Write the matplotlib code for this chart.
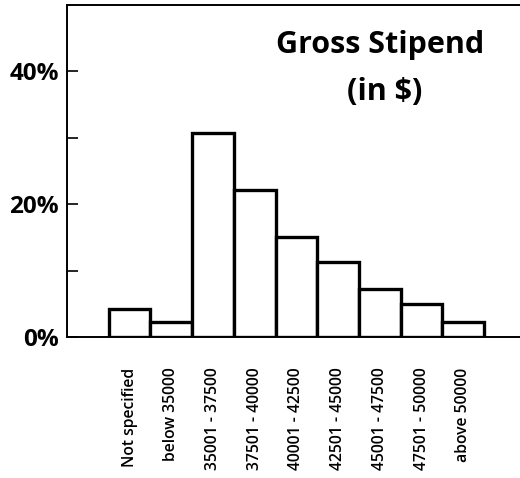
import matplotlib
matplotlib.use("Agg")
import matplotlib.pyplot as plt
import numpy as np

plt.rcParams['font.family'] = ['Open Sans', 'DejaVu Sans']

categories = ['Not specified', 'below 35000', '35001 - 37500', '37501 - 40000',
              '40001 - 42500', '42501 - 45000', '45001 - 47500', '47501 - 50000',
              'above 50000']
shares = [4.2, 2.2, 30.7, 22.1, 15.1, 11.3, 7.2, 5.0, 2.2]

fig = plt.figure(figsize=(5.2, 4.78), dpi=100)
ax = fig.add_axes([67 / 520, 141 / 478, 453 / 520, 332 / 478])

x = np.arange(len(categories))
ax.bar(x, shares, width=1.0, color='white', edgecolor='black', linewidth=2.4, zorder=3)

ax.set_xlim(-1.5, 9.36)
ax.set_ylim(0, 50)
ax.spines['right'].set_visible(False)
for s in ['left', 'top', 'bottom']:
    ax.spines[s].set_linewidth(1.4)

ax.set_yticks([0, 10, 20, 30, 40])
ax.set_yticklabels(['0%', '', '20%', '', '40%'], fontsize=17.5, fontweight='bold')
ax.tick_params(axis='y', direction='in', length=8, width=1.2, pad=6)
ax.set_xticks(x)
ax.set_xticklabels(categories, rotation=90, fontsize=11.3, va='top', fontweight='semibold')
ax.tick_params(axis='x', length=0, pad=22)

fig.text(380 / 520, 1 - 45 / 478, 'Gross Stipend', ha='center', va='center',
         fontsize=22, fontweight='bold')
fig.text(385 / 520, 1 - 92 / 478, '(in $)', ha='center', va='center',
         fontsize=22, fontweight='bold')

fig.savefig('out.png', dpi=100)
